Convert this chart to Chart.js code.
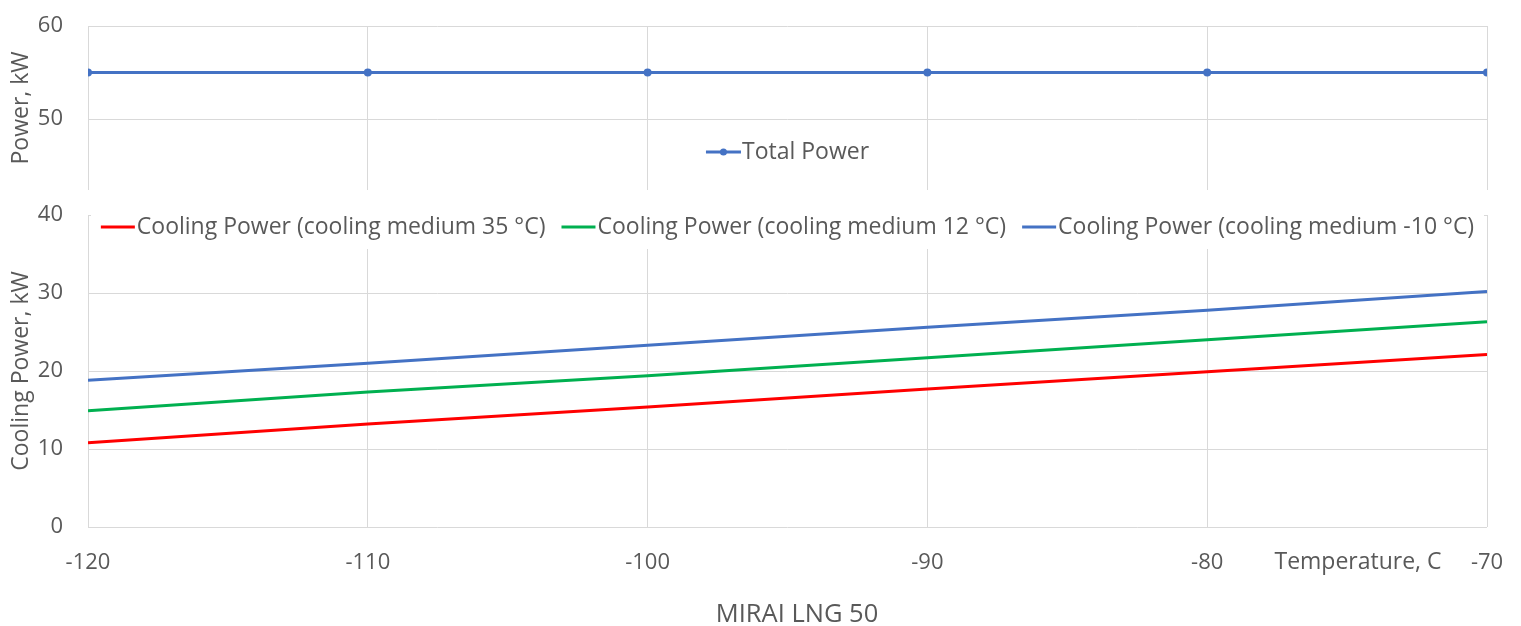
<!DOCTYPE html>
<html>
<head>
<meta charset="utf-8">
<script src="https://cdn.jsdelivr.net/npm/chart.js@4.4.1/dist/chart.umd.min.js"></script>
<style>
  html, body { margin: 0; padding: 0; background: #fff; }
  #top { position: absolute; left: 0; top: 0; width: 1521px; height: 194px; }
  #bottom { position: absolute; left: 0; top: 190px; width: 1521px; height: 436px; }
</style>
</head>
<body>
<div id="top"><canvas id="powerChart"></canvas></div>
<div id="bottom"><canvas id="coolingChart"></canvas></div>
<script>
// values
const temperatures = [-120, -110, -100, -90, -80, -70];
const totalPower = [55, 55, 55, 55, 55, 55];
const cooling35 = [10.8, 13.2, 15.4, 17.7, 19.9, 22.1];
const cooling12 = [14.9, 17.3, 19.4, 21.7, 24.0, 26.3];
const coolingMinus10 = [18.8, 21.0, 23.3, 25.6, 27.8, 30.2];
const powerTicks = [50, 60];
const coolingTicks = [0, 10, 20, 30, 40];
const tempTicks = [-120, -110, -100, -90, -80, -70];

const textColor = '#595959';
const gridColor = '#d9d9d9';
Chart.defaults.font.family = '"Open Sans", sans-serif';

const toPoints = (vals) => temperatures.map((t, i) => ({ x: t, y: vals[i] }));

// keep the plot area where the layout padding puts it
const noPadY = s => { s.width = 88; s.paddingTop = 0; s.paddingBottom = 0; };

// Excel style legend drawn inside the plot area
const overlayLegend = {
  id: 'overlayLegend',
  afterDraw(chart, args, opts) {
    const ctx = chart.ctx;
    const area = chart.chartArea;
    ctx.save();
    ctx.font = opts.font;
    const items = chart.data.datasets.map(ds => ({
      label: ds.label,
      color: ds.borderColor,
      point: ds.pointRadius > 0,
      w: ctx.measureText(ds.label).width
    }));
    const total = items.reduce((s, it) => s + opts.sample + opts.gap + it.w, 0) + opts.spacing * (items.length - 1);
    let x = (area.left + area.right) / 2 - total / 2;
    const y = opts.y;
    if (opts.boxHalf) {
      ctx.fillStyle = '#fff';
      ctx.fillRect(area.left + 3, y - opts.boxHalf, area.width - 6, opts.boxHalf * 2);
    }
    ctx.textBaseline = 'middle';
    ctx.textAlign = 'left';
    items.forEach(it => {
      ctx.strokeStyle = it.color;
      ctx.lineWidth = 3;
      ctx.beginPath();
      ctx.moveTo(x, y);
      ctx.lineTo(x + opts.sample, y);
      ctx.stroke();
      if (it.point) {
        ctx.fillStyle = it.color;
        ctx.beginPath();
        ctx.arc(x + opts.sample / 2, y, 3.5, 0, Math.PI * 2);
        ctx.fill();
      }
      ctx.fillStyle = opts.color;
      ctx.fillText(it.label, x + opts.sample + opts.gap, y);
      x += opts.sample + opts.gap + it.w + opts.spacing;
    });
    (opts.labels || []).forEach(l => {
      ctx.font = l.font || opts.font;
      ctx.fillStyle = opts.color;
      ctx.textAlign = 'center';
      ctx.fillText(l.text, l.x, l.y);
    });
    ctx.restore();
  }
};

new Chart(document.getElementById('powerChart'), {
  type: 'line',
  data: {
    datasets: [{
      label: 'Total Power',
      data: toPoints(totalPower),
      borderColor: '#4472c4',
      backgroundColor: '#4472c4',
      borderWidth: 3,
      pointRadius: 4,
      pointBorderWidth: 0
    }]
  },
  plugins: [overlayLegend],
  options: {
    responsive: true,
    maintainAspectRatio: false,
    animation: false,
    layout: { padding: { top: 26, right: 34, bottom: 2, left: 0 } },
    plugins: {
      legend: { display: false },
      tooltip: { enabled: false },
      overlayLegend: { y: 152, font: '23px "Open Sans"', color: textColor, sample: 35, gap: 1, spacing: 20 }
    },
    scales: {
      x: {
        type: 'linear', min: -120, max: -70,
        afterBuildTicks: s => { s.ticks = tempTicks.map(v => ({ value: v })); },
        ticks: { display: false },
        grid: { color: gridColor, drawTicks: false },
        border: { display: false },
        afterFit: s => { s.height = 0; s.paddingLeft = 0; s.paddingRight = 0; }
      },
      y: {
        min: 42.4, max: 60,
        afterBuildTicks: s => { s.ticks = powerTicks.map(v => ({ value: v })); },
        ticks: { color: textColor, font: { size: 22 }, padding: 25 },
        grid: { color: gridColor, drawTicks: false },
        border: { display: false },
        title: { display: true, text: 'Power, kW', color: textColor, font: { size: 23 }, padding: { top: 8, bottom: 0 } },
        afterFit: noPadY
      }
    }
  }
});

new Chart(document.getElementById('coolingChart'), {
  type: 'line',
  data: {
    datasets: [
      { label: 'Cooling Power (cooling medium 35 °C)', data: toPoints(cooling35), borderColor: '#ff0000', borderWidth: 3, pointRadius: 0 },
      { label: 'Cooling Power (cooling medium 12 °C)', data: toPoints(cooling12), borderColor: '#00b050', borderWidth: 3, pointRadius: 0 },
      { label: 'Cooling Power (cooling medium -10 °C)', data: toPoints(coolingMinus10), borderColor: '#4472c4', borderWidth: 3, pointRadius: 0 }
    ]
  },
  plugins: [overlayLegend],
  options: {
    responsive: true,
    maintainAspectRatio: false,
    animation: false,
    layout: { padding: { top: 25, right: 34, bottom: 0, left: 0 } },
    plugins: {
      legend: { display: false },
      tooltip: { enabled: false },
      title: { display: false },
      overlayLegend: {
        y: 37, boxHalf: 22, font: '23px "Open Sans"', color: textColor, sample: 34, gap: 2, spacing: 16,
        labels: [
          { text: 'Temperature, C', x: 1358, y: 372 },
          { text: 'MIRAI LNG 50', x: 797, y: 425, font: '25.5px "Open Sans"' }
        ]
      }
    },
    scales: {
      x: {
        type: 'linear', min: -120, max: -70,
        afterBuildTicks: s => { s.ticks = tempTicks.map(v => ({ value: v })); },
        ticks: { color: textColor, font: { size: 22 }, padding: 23 },
        grid: { color: gridColor, drawTicks: false },
        border: { display: false },
        afterFit: s => { s.height = 99; s.paddingLeft = 0; s.paddingRight = 0; }
      },
      y: {
        min: 0, max: 40,
        afterBuildTicks: s => { s.ticks = coolingTicks.map(v => ({ value: v })); },
        ticks: { color: textColor, font: { size: 22 }, padding: 25 },
        grid: { color: gridColor, drawTicks: false },
        border: { display: false },
        title: { display: true, text: 'Cooling Power, kW', color: textColor, font: { size: 23 }, padding: { top: 8, bottom: 0 } },
        afterFit: noPadY
      }
    }
  }
});
</script>
</body>
</html>
